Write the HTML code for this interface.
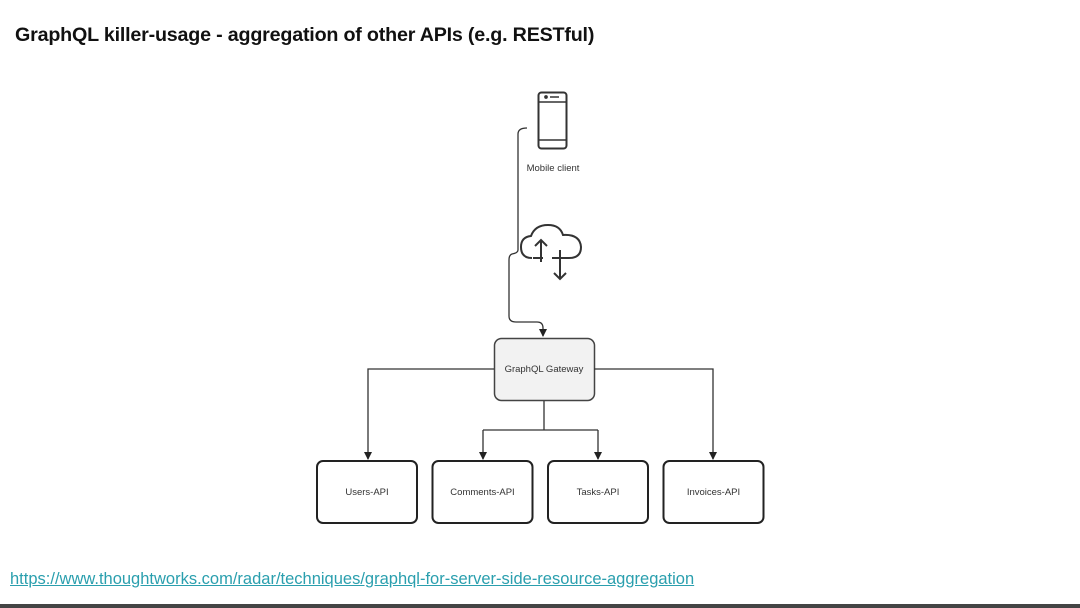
<!DOCTYPE html>
<html><head><meta charset="utf-8"><style>
html,body{margin:0;padding:0;background:#fff;}
body{width:1080px;height:608px;position:relative;overflow:hidden;font-family:"Liberation Sans",sans-serif;}
.title{position:absolute;left:15px;top:24px;font-size:19.7px;font-weight:bold;color:#111;letter-spacing:-0.2px;}
.link{position:absolute;left:10px;top:570px;font-size:16.5px;color:#2a9fae;text-decoration:underline;}
.bar{position:absolute;left:0;top:604px;width:1080px;height:4px;background:#444;}
</style></head><body>
<div class="title">GraphQL killer-usage - aggregation of other APIs (e.g. RESTful)</div>
<svg width="1080" height="608" style="position:absolute;left:0;top:0" xmlns="http://www.w3.org/2000/svg">
<defs><marker id="a" markerWidth="8" markerHeight="8" refX="4" refY="7" orient="0" markerUnits="userSpaceOnUse"><path d="M0,0 L8,0 L4,8 z" fill="#222"/></marker></defs>
<g fill="none" stroke="#333" stroke-width="1.3">
<rect x="538.5" y="92.5" width="28" height="56" rx="3" stroke-width="2"/>
<line x1="538.5" y1="102" x2="566.5" y2="102" stroke-width="1.5"/>
<line x1="538.5" y1="140" x2="566.5" y2="140" stroke-width="1.5"/>
<circle cx="546" cy="97" r="1.2" fill="#333"/>
<line x1="550" y1="97" x2="559" y2="97" stroke-width="1.5"/>
<path d="M527,128 Q518,128 518,134 L518,250 Q518,253 512,254 Q509,255 509,260 L509,316 Q509,322 516,322 L537,322 Q543,322 543,328 L543,336" marker-end="url(#a)"/>
<path d="M532,258 Q521,258 521,247 Q521,237 531,236 Q535,225 548,225 Q560,225 563,235 Q580,234 581,247 Q581,258 569,258 L552,258 M543,258 L533,258" stroke-width="2"/>
<line x1="541" y1="262" x2="541" y2="240" stroke-width="2"/>
<path d="M535,246 L541,240 L547,246" stroke-width="2"/>
<line x1="560" y1="250" x2="560" y2="279" stroke-width="2"/>
<path d="M554,273 L560,279 L566,273" stroke-width="2"/>
<rect x="494.5" y="338.5" width="100" height="62" rx="7" fill="#f2f2f2" stroke="#444" stroke-width="1.5"/>
<path d="M494,369 L368,369 L368,459" marker-end="url(#a)"/>
<path d="M594,369 L713,369 L713,459" marker-end="url(#a)"/>
<path d="M544,401 L544,430"/>
<path d="M483,430 L598,430"/>
<path d="M483,430 L483,459" marker-end="url(#a)"/>
<path d="M598,430 L598,459" marker-end="url(#a)"/>
<g stroke="#222" stroke-width="2">
<rect x="317" y="461" width="100" height="62" rx="6"/>
<rect x="432.5" y="461" width="100" height="62" rx="6"/>
<rect x="548" y="461" width="100" height="62" rx="6"/>
<rect x="663.5" y="461" width="100" height="62" rx="6"/>
</g>
</g>
<g font-family="Liberation Sans, sans-serif" font-size="9.5" fill="#333" text-anchor="middle">
<text x="553" y="171">Mobile client</text>
<text x="544" y="372">GraphQL Gateway</text>
<text x="367" y="495">Users-API</text>
<text x="482.5" y="495">Comments-API</text>
<text x="598" y="495">Tasks-API</text>
<text x="713.5" y="495">Invoices-API</text>
</g>
</svg>
<div class="link">https://www.thoughtworks.com/radar/techniques/graphql-for-server-side-resource-aggregation</div>
<div class="bar"></div>
</body></html>
